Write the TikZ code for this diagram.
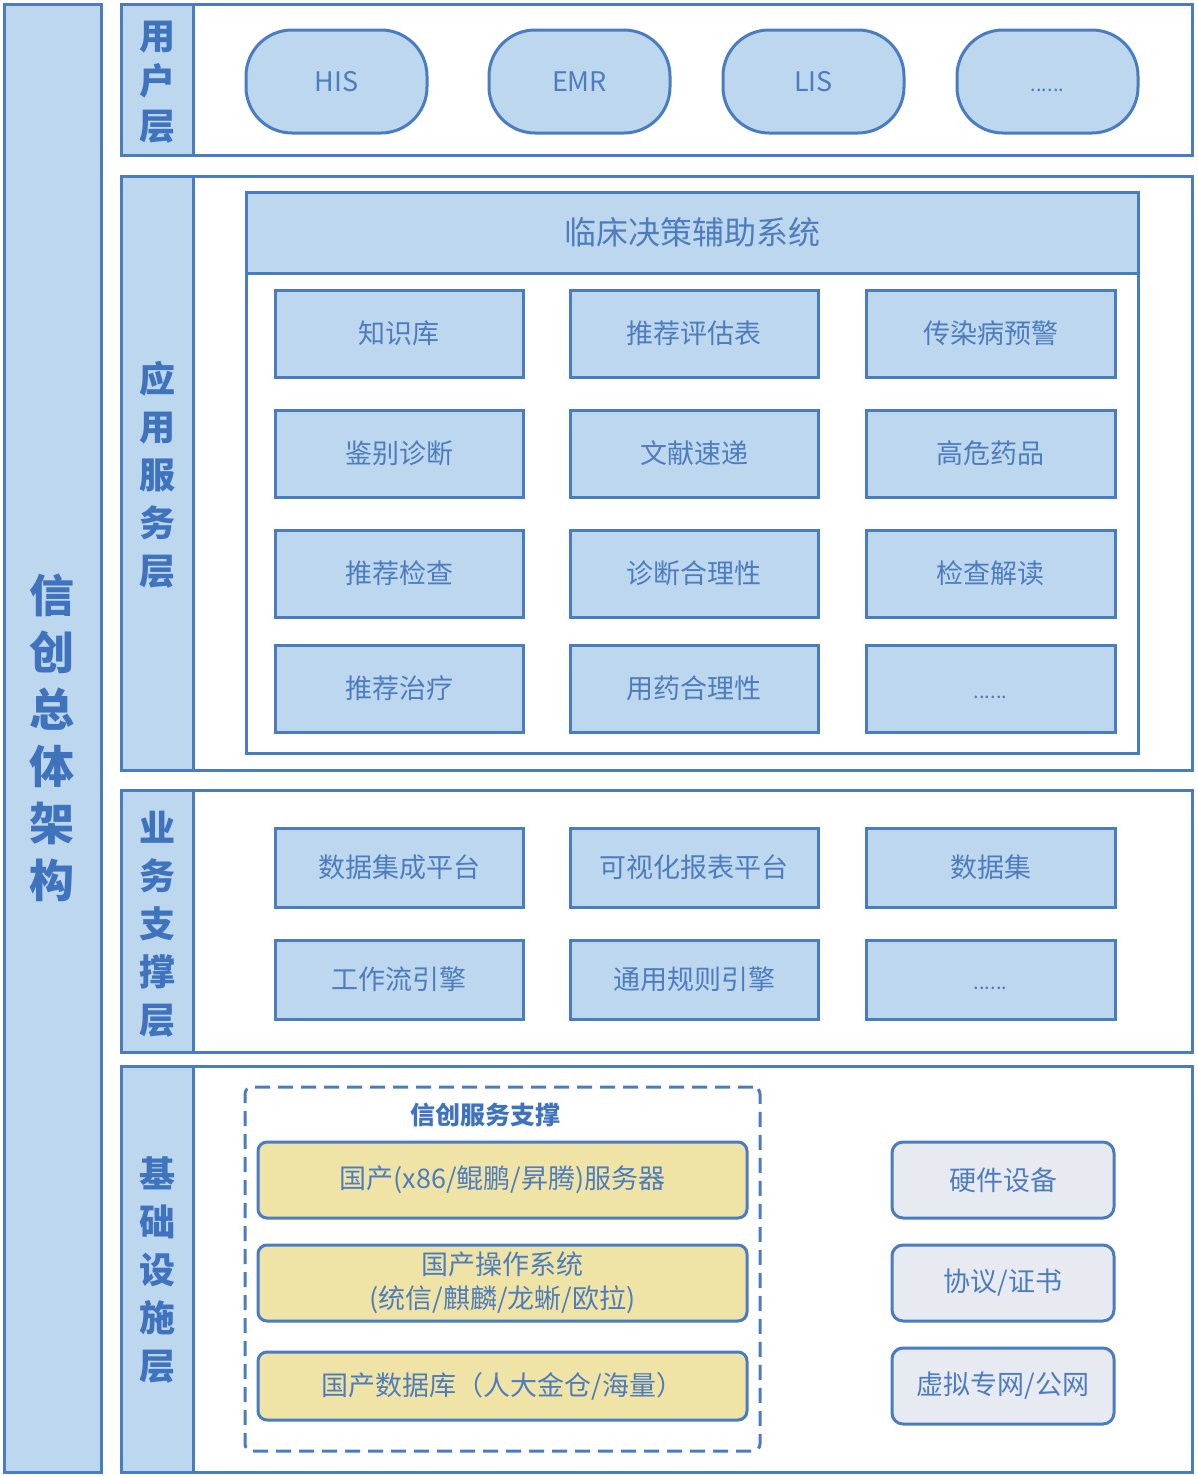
\documentclass[tikz,border=0pt]{standalone}
\usepackage{fontspec}
\setmainfont{Noto Sans CJK SC}
\usetikzlibrary{calc}
\definecolor{bfill}{HTML}{BDD7EE}
\definecolor{bline}{HTML}{4A7CC2}
\definecolor{btext}{HTML}{4E7DBE}
\definecolor{ltext}{HTML}{3F73BE}
\definecolor{yfill}{HTML}{EFE3A6}
\definecolor{gfill}{HTML}{E7EBF1}
\newcommand\mkbox[7]{\node[#6, minimum width={#4pt-#2pt}, minimum height={#5pt-#3pt}] (#1) at ({(#2+#4)/2},{(#3+#5)/2}) {#7};}
\newcommand\mydots{\vphantom{国}{\fontsize{20}{20}\selectfont ......}}
\begin{document}
\begin{tikzpicture}[x=1pt,y=-1pt,
  base/.style={draw=bline, line width=3pt, inner sep=0pt, text=btext, align=center},
  bluebox/.style={base, fill=bfill, font=\fontsize{27}{30}\selectfont},
  pill/.style={base, fill=bfill, rounded corners=46pt, font=\fontsize{27}{30}\selectfont},
  frame/.style={base, fill=white},
  lab/.style={base, fill=bfill},
  ybox/.style={base, fill=yfill, rounded corners=9pt, font=\fontsize{27}{34}\selectfont},
  gbox/.style={base, fill=gfill, rounded corners=11pt, font=\fontsize{27}{30}\selectfont},
  vlab/.style={text=ltext, align=center, font=\bfseries\fontsize{36}{48}\selectfont}
]
\useasboundingbox (0,0) rectangle (1198,1476);
\fill[white] (0,0) rectangle (1198,1476);
% left column
\mkbox{main}{4}{4}{101}{1472}{lab}{}
\node[vlab, font=\bfseries\fontsize{45}{57}\selectfont] (maint) at (52,738) {信\\创\\总\\体\\架\\构};
% layers
\mkbox{L1}{121}{4}{1192}{155}{frame}{}
\mkbox{L1l}{121}{4}{193}{155}{lab}{}
\node[vlab, font=\bfseries\fontsize{36}{45}\selectfont] (L1t) at (157,82) {用\\户\\层};
\mkbox{L2}{121}{176}{1192}{770}{frame}{}
\mkbox{L2l}{121}{176}{193}{770}{lab}{}
\node[vlab] (L2t) at (157,475) {应\\用\\服\\务\\层};
\mkbox{L3}{121}{790}{1192}{1052}{frame}{}
\mkbox{L3l}{121}{790}{193}{1052}{lab}{}
\node[vlab] (L3t) at (157,924) {业\\务\\支\\撑\\层};
\mkbox{L4}{121}{1066}{1192}{1472}{frame}{}
\mkbox{L4l}{121}{1066}{193}{1472}{lab}{}
\node[vlab] (L4t) at (157,1270) {基\\础\\设\\施\\层};
% user layer
\mkbox{his}{246}{30}{427}{133}{pill}{HIS}
\mkbox{emr}{489}{30}{670}{133}{pill}{EMR}
\mkbox{lis}{723}{30}{904}{133}{pill}{LIS}
\mkbox{umore}{957}{30}{1138}{133}{pill}{\mydots}
% application layer
\mkbox{cds}{246}{192}{1138}{753}{frame}{}
\mkbox{cdsh}{246}{192}{1138}{273}{bluebox, font=\fontsize{32}{36}\selectfont}{临床决策辅助系统}
\mkbox{a11}{275}{290}{523}{377}{bluebox}{知识库}
\mkbox{a12}{570}{290}{818}{377}{bluebox}{推荐评估表}
\mkbox{a13}{866}{290}{1115}{377}{bluebox}{传染病预警}
\mkbox{a21}{275}{410}{523}{497}{bluebox}{鉴别诊断}
\mkbox{a22}{570}{410}{818}{497}{bluebox}{文献速递}
\mkbox{a23}{866}{410}{1115}{497}{bluebox}{高危药品}
\mkbox{a31}{275}{530}{523}{617}{bluebox}{推荐检查}
\mkbox{a32}{570}{530}{818}{617}{bluebox}{诊断合理性}
\mkbox{a33}{866}{530}{1115}{617}{bluebox}{检查解读}
\mkbox{a41}{275}{645}{523}{732}{bluebox}{推荐治疗}
\mkbox{a42}{570}{645}{818}{732}{bluebox}{用药合理性}
\mkbox{a43}{866}{645}{1115}{732}{bluebox}{\mydots}
% business support layer
\mkbox{b11}{275}{828}{523}{907}{bluebox}{数据集成平台}
\mkbox{b12}{570}{828}{818}{907}{bluebox}{可视化报表平台}
\mkbox{b13}{866}{828}{1115}{907}{bluebox}{数据集}
\mkbox{b21}{275}{940}{523}{1019}{bluebox}{工作流引擎}
\mkbox{b22}{570}{940}{818}{1019}{bluebox}{通用规则引擎}
\mkbox{b23}{866}{940}{1115}{1019}{bluebox}{\mydots}
% infrastructure layer
\mkbox{xc}{245}{1087}{760}{1451}{base, fill=none, dash pattern=on 15pt off 8pt, rounded corners=7pt}{}
\node[text=ltext, font=\bfseries\fontsize{25}{30}\selectfont] (xct) at (485,1115) {信创服务支撑};
\mkbox{y1}{258}{1142}{747}{1218}{ybox}{国产(x86/鲲鹏/昇腾)服务器}
\mkbox{y2}{258}{1245}{747}{1321}{ybox}{国产操作系统\\(统信/麒麟/龙蜥/欧拉)}
\mkbox{y3}{258}{1352}{747}{1420}{ybox}{国产数据库（人大金仓/海量）}
\mkbox{g1}{892}{1142}{1114}{1218}{gbox}{硬件设备}
\mkbox{g2}{892}{1245}{1114}{1321}{gbox}{协议/证书}
\mkbox{g3}{892}{1348}{1114}{1424}{gbox}{虚拟专网/公网}
\end{tikzpicture}
\end{document}
